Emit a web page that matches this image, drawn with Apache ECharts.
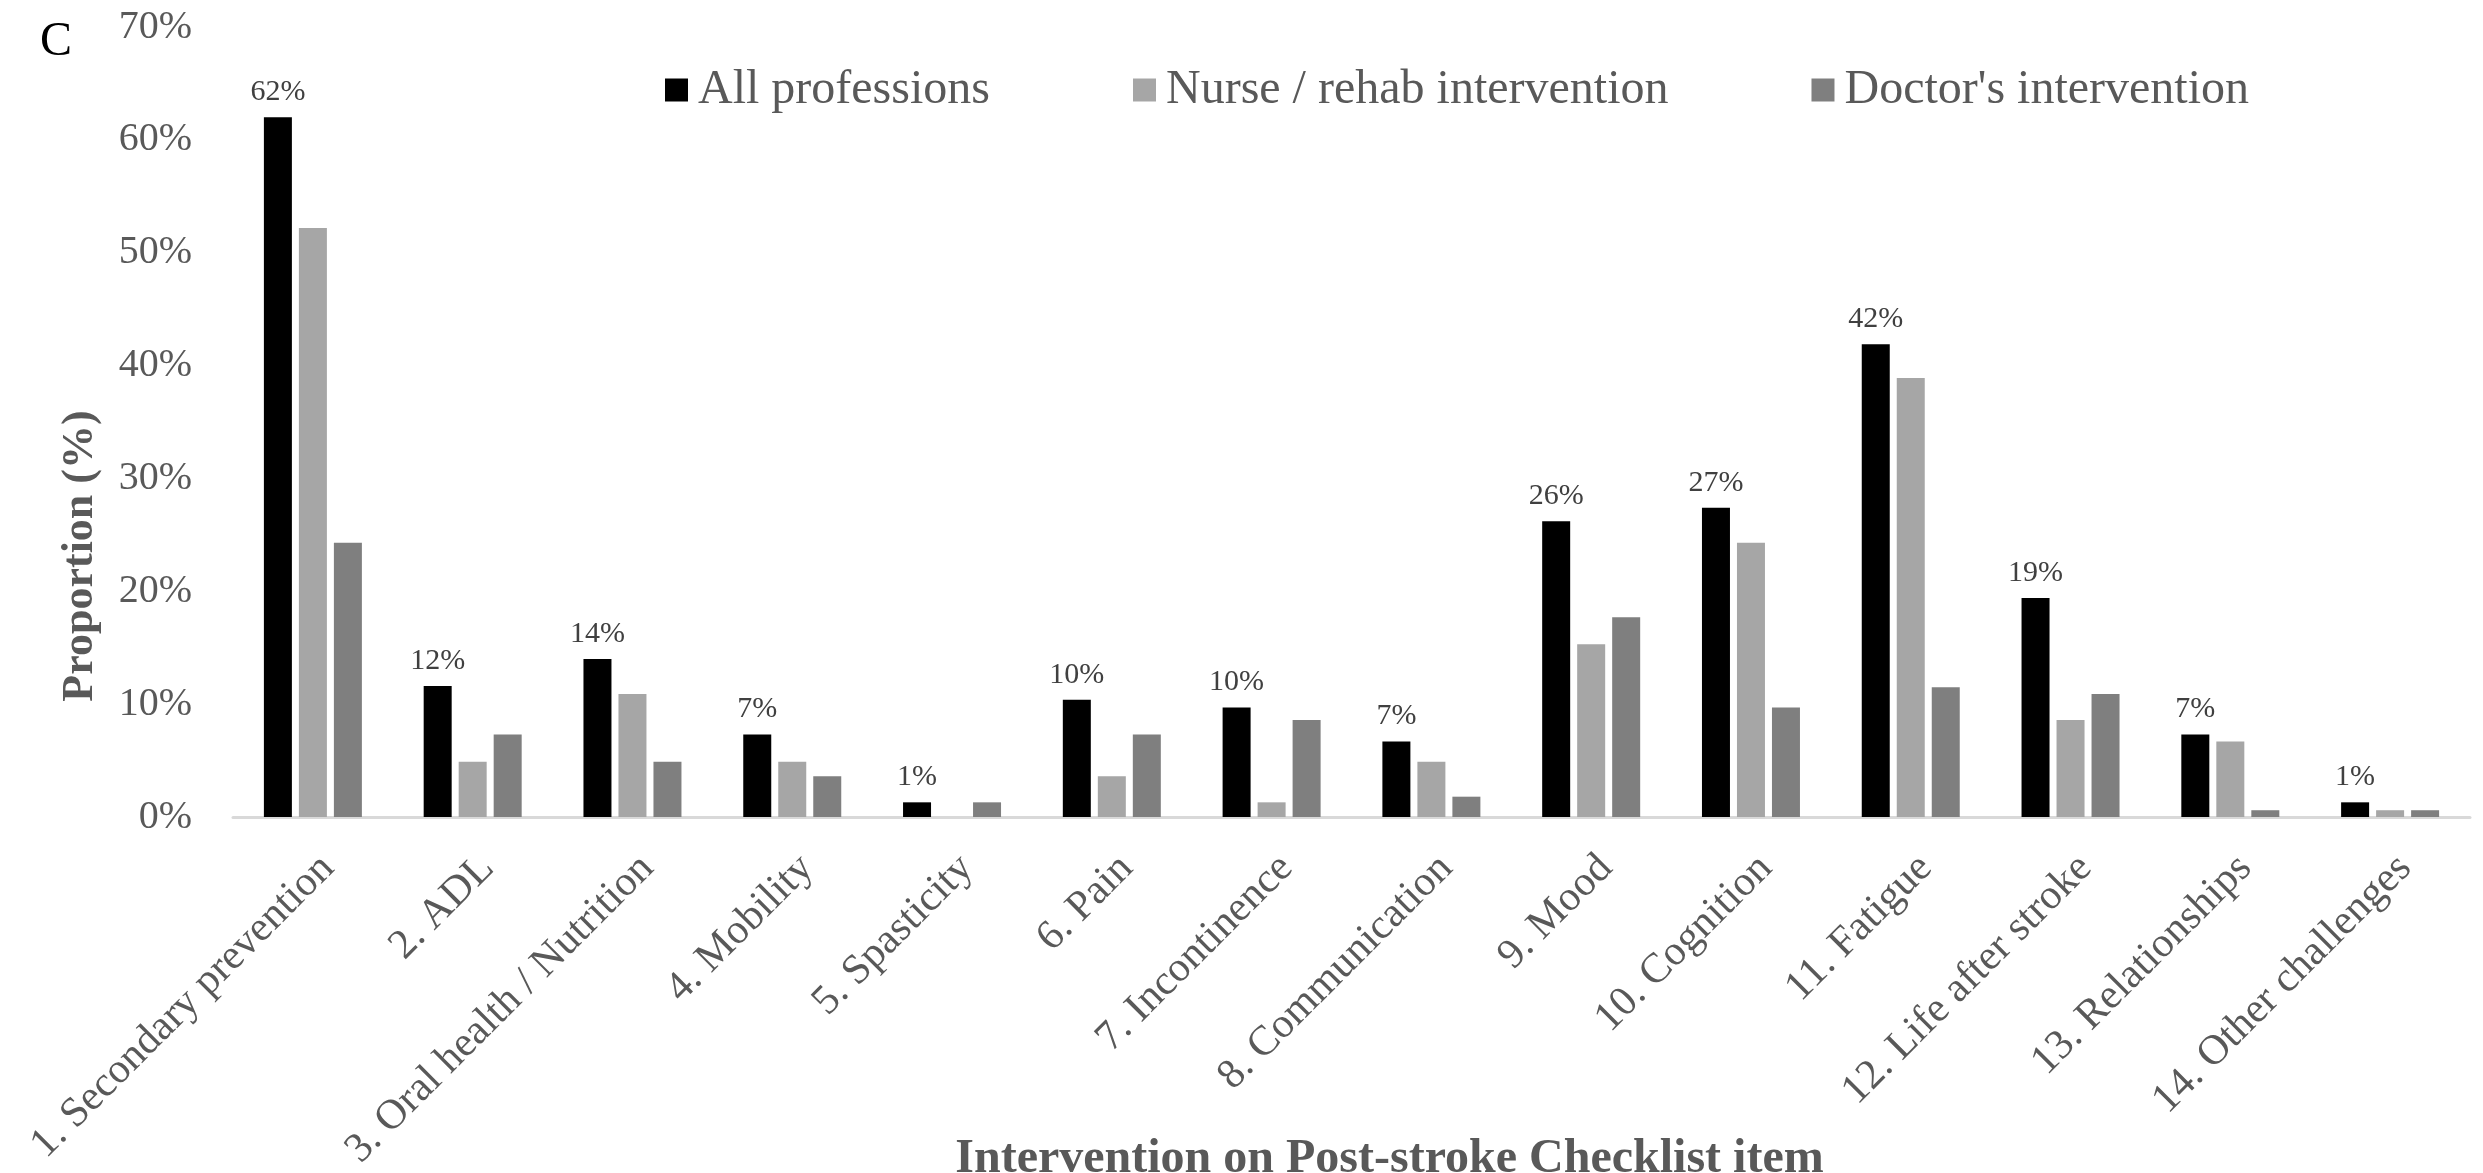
<!DOCTYPE html>
<html>
<head>
<meta charset="utf-8">
<title>Intervention on Post-stroke Checklist item</title>
<script src="https://cdn.jsdelivr.net/npm/echarts@6/dist/echarts.min.js"></script>
<style>
  html, body { margin: 0; padding: 0; background: #fff; }
  #chart { width: 2483px; height: 1173px; }
</style>
</head>
<body>
<div id="chart"></div>
<script>
// checklist items (x axis)
var categories = [
  "1. Secondary prevention", "2. ADL", "3. Oral health / Nutrition", "4. Mobility",
  "5. Spasticity", "6. Pain", "7. Incontinence", "8. Communication", "9. Mood",
  "10. Cognition", "11. Fatigue", "12. Life after stroke", "13. Relationships",
  "14. Other challenges"
];
var seriesNames = ["All professions", "Nurse / rehab intervention", "Doctor's intervention"];
// proportions in %
var allProfessions = [62.0, 11.6, 14.0, 7.3, 1.3, 10.4, 9.7, 6.7, 26.2, 27.4, 41.9, 19.4, 7.3, 1.3];
var nurseRehab = [52.2, 4.9, 10.9, 4.9, 0, 3.6, 1.3, 4.9, 15.3, 24.3, 38.9, 8.6, 6.7, 0.6];
var doctors = [24.3, 7.3, 4.9, 3.6, 1.3, 7.3, 8.6, 1.8, 17.7, 9.7, 11.5, 10.9, 0.6, 0.6];
// y axis ticks
var yTicks = { min: 0, max: 70, interval: 10 };

var font = "'Liberation Serif', 'Times New Roman', serif";
var chart = echarts.init(document.getElementById("chart"));

var option = {
  backgroundColor: "#ffffff",
  animation: false,
  textStyle: { fontFamily: font },
  color: ["#000000", "#a6a6a6", "#7f7f7f"],
  graphic: [
    {
      type: "text",
      left: 40,
      top: 18,
      style: { text: "C", font: "48px " + font, fill: "#000000" }
    }
  ],
  legend: {
    left: 660,
    top: 57,
    itemWidth: 23,
    itemHeight: 23,
    itemGap: 143,
    icon: "rect",
    data: seriesNames,
    textStyle: {
      fontFamily: font,
      fontSize: 48,
      color: "#595959",
      lineHeight: 56,
      padding: [0, 0, 0, 5]
    }
  },
  grid: {
    left: 233,
    right: 13,
    top: 27,
    bottom: 356,
    containLabel: false,
    outerBoundsMode: "none"
  },
  xAxis: {
    type: "category",
    data: categories,
    axisLine: { lineStyle: { color: "#d9d9d9", width: 3 } },
    axisTick: { show: false },
    axisLabel: {
      interval: 0,
      rotate: 45,
      margin: 30,
      fontFamily: font,
      fontSize: 42,
      color: "#595959",
      verticalAlign: "top"
    },
    name: "Intervention on Post-stroke Checklist item",
    nameLocation: "middle",
    nameGap: 319,
    nameMoveOverlap: false,
    nameTextStyle: {
      fontFamily: font,
      fontSize: 48,
      fontWeight: "bold",
      color: "#595959",
      padding: [0, 0, 0, 76]
    }
  },
  yAxis: {
    type: "value",
    min: yTicks.min,
    max: yTicks.max,
    interval: yTicks.interval,
    axisLine: { show: false },
    axisTick: { show: false },
    splitLine: { show: false },
    axisLabel: {
      margin: 41,
      fontFamily: font,
      fontSize: 40,
      color: "#595959",
      formatter: "{value}%"
    },
    name: "Proportion (%)",
    nameLocation: "middle",
    nameGap: 130,
    nameMoveOverlap: false,
    nameTextStyle: {
      fontFamily: font,
      fontSize: 44,
      fontWeight: "bold",
      color: "#595959",
      padding: [0, 268, 0, 0]
    }
  },
  series: [
    {
      name: seriesNames[0],
      type: "bar",
      data: allProfessions,
      barWidth: 28,
      barGap: "25%",
      label: {
        show: true,
        position: "top",
        distance: 10,
        fontFamily: font,
        fontSize: 30,
        color: "#404040",
        formatter: function (p) { return Math.round(p.value) + "%"; }
      }
    },
    { name: seriesNames[1], type: "bar", data: nurseRehab, barWidth: 28, barGap: "25%" },
    { name: seriesNames[2], type: "bar", data: doctors, barWidth: 28, barGap: "25%" }
  ]
};

chart.setOption(option);
</script>
</body>
</html>
